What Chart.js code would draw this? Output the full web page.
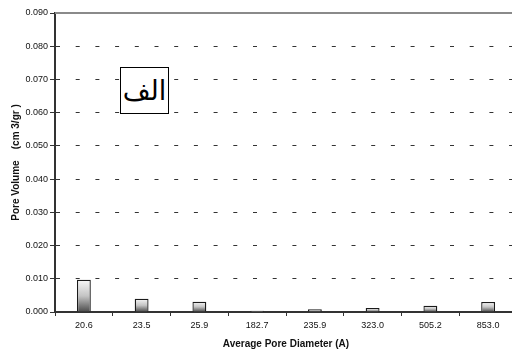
<!DOCTYPE html>
<html>
<head>
<meta charset="utf-8">
<script src="https://cdn.jsdelivr.net/npm/chart.js@4"></script>
<style>
  body { margin: 0; overflow: hidden; background: #fff; }
  #wrap { position: relative; width: 512px; height: 354px; overflow: hidden; }
  #tag {
    position: absolute; left: 120px; top: 67px; width: 47px; height: 45px;
    border: 1px solid #000; background: #fff;
    font: 27px "DejaVu Sans", serif; line-height: 45px; text-align: center;
    direction: rtl;
  }
</style>
</head>
<body>
<div id="wrap">
  <canvas id="chart" width="520" height="354"></canvas>
  <div id="tag">الف</div>
</div>
<script>
// pore size distribution
let diameters = ["20.6", "23.5", "25.9", "182.7", "235.9", "323.0", "505.2", "853.0"];
let poreVolume = [0.0097, 0.0040, 0.0031, 0.0004, 0.0008, 0.0012, 0.0019, 0.0030];
let yTicks = ["0.000", "0.010", "0.020", "0.030", "0.040", "0.050", "0.060", "0.070", "0.080", "0.090"];

const font = { family: "'Liberation Sans', Arial, sans-serif", size: 9 };
const titleFont = { family: font.family, size: 10, weight: "bold" };

// gradient per bar: light on top, dark at the base
function barFill(c) {
  let chart = c.chart;
  if (!chart.chartArea || c.raw == null) return "#999";
  let y = chart.scales.y;
  let top = y.getPixelForValue(c.raw);
  let base = y.getPixelForValue(0);
  if (!(base > top)) return "#999";
  let g = chart.ctx.createLinearGradient(0, top, 0, base);
  g.addColorStop(0, "#f8f8f8");
  g.addColorStop(0.5, "#c4c4c4");
  g.addColorStop(1, "#4a4a4a");
  return g;
}

// solid frame line along the top of the plot
const topLine = {
  id: "topLine",
  beforeDatasetsDraw(chart) {
    let a = chart.chartArea, ctx = chart.ctx;
    ctx.save();
    ctx.strokeStyle = "#8a8a8a";
    ctx.lineWidth = 2;
    ctx.beginPath();
    ctx.moveTo(a.left, a.top);
    ctx.lineTo(a.right, a.top);
    ctx.stroke();
    ctx.restore();
  }
};

new Chart(document.getElementById("chart"), {
  type: "bar",
  data: {
    labels: diameters,
    datasets: [{
      data: poreVolume,
      backgroundColor: barFill,
      borderColor: "#1a1a1a",
      borderWidth: 1.3,
      borderSkipped: "bottom",
      categoryPercentage: 1,
      barPercentage: 0.24
    }]
  },
  options: {
    responsive: false,
    animation: false,
    events: [],
    layout: { padding: { top: 13, right: 3, left: 0, bottom: 0 } },
    plugins: { legend: { display: false }, tooltip: { enabled: false } },
    scales: {
      x: {
        afterFit: s => { s.height = 42; },
        grid: { offset: true, drawOnChartArea: false, tickLength: 4, color: "#333", lineWidth: 1 },
        border: { color: "#333", width: 2 },
        ticks: { color: "#111", font: font, padding: 4, maxRotation: 0 },
        title: {
          display: true, text: "Average Pore Diameter (A)", color: "#111",
          font: titleFont,
          padding: { top: 0, bottom: 4 }
        }
      },
      y: {
        min: 0, max: 0.09,
        afterFit: s => { s.width = 55; },
        grid: {
          color: c => c.index === 0 ? "rgba(0,0,0,0)" : "#333",
          lineWidth: 1,
          tickLength: 5, tickColor: "#333", tickBorderDash: []
        },
        border: { color: "#333", width: 2, dash: [4, 15.7], dashOffset: 0 },
        ticks: {
          stepSize: 0.01, color: "#111", font: font, padding: 2,
          callback: (v, i) => yTicks[i]
        },
        title: {
          display: true, text: "Pore Volume    (cm 3/gr )", color: "#111",
          font: titleFont,
          padding: { top: 10, bottom: 0 }
        }
      }
    }
  },
  plugins: [topLine]
});
</script>
</body>
</html>
